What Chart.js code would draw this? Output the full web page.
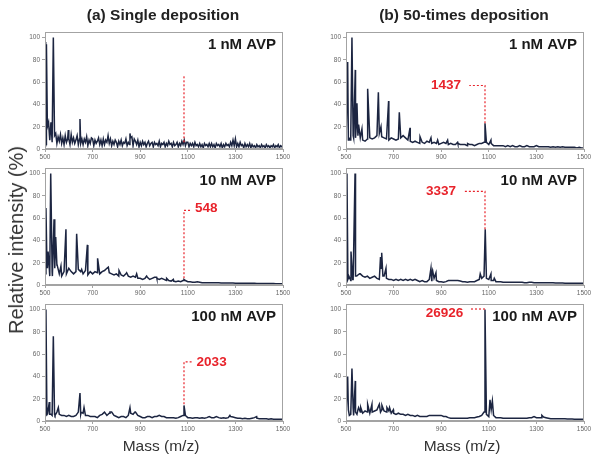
<!DOCTYPE html>
<html><head><meta charset="utf-8">
<script src="https://cdn.jsdelivr.net/npm/chart.js@4.4.1/dist/chart.umd.min.js"></script>
<style>
html,body{margin:0;padding:0;background:#fff;}
#wrap{position:relative;width:602px;height:463px;overflow:hidden;font-family:"Liberation Sans",Arial,sans-serif;}
#wrap canvas{position:absolute;left:0;top:0;}
.t{position:absolute;white-space:nowrap;line-height:1;transform:translate(-50%,-50%);color:#222;}
.title{font-weight:bold;font-size:15.5px;}
.axt{font-size:15.5px;color:#333;}
.yt{font-size:20px;color:#333;transform:translate(-50%,-50%) rotate(-90deg);}
</style></head><body>
<div id="wrap">
<canvas id="c0" width="602" height="463"></canvas>
<canvas id="c1" width="602" height="463"></canvas>
<canvas id="c2" width="602" height="463"></canvas>
<canvas id="c3" width="602" height="463"></canvas>
<canvas id="c4" width="602" height="463"></canvas>
<canvas id="c5" width="602" height="463"></canvas>
<div class="t title" style="left:163px;top:15px;">(a) Single deposition</div>
<div class="t title" style="left:464px;top:15px;">(b) 50-times deposition</div>
<div class="t yt" style="left:16px;top:240px;">Relative intensity (%)</div>
<div class="t axt" style="left:161px;top:446px;">Mass (m/z)</div>
<div class="t axt" style="left:462px;top:446px;">Mass (m/z)</div>
</div>
<script>
// ---- data ----
const xTicks = [500, 700, 900, 1100, 1300, 1500];
const yTicks = [0, 20, 40, 60, 80, 100];
const baseStart = 500; // baseline arrays start at m/z 500 and run to 1500

// (a) single deposition, 1 nM  (baseline sampled every 5 m/z)
const stepA1 = 5;
const baseA1 = [3,4,20,18,8,24,6,3,12,9, 5,11,7,13,5,10,4,12,6,9, 9,4,13,6,10,5,8,12,4,9, 5,10,4,9,6,11,3,8,5,10,
  9,3,8,5,7,10,4,8,3,9, 4,8,6,11,5,9,3,7,4,8, 6,2,7,4,8,3,6,5,9,3, 6,4,10,12,3,9,7,4,8,2,
  6,3,7,4,6,2,5,7,3,5, 6,2,6,4,5,3,7,2,5,4, 6,2,5,3,7,4,5,2,6,3, 4,6,2,5,3,7,4,8,3,6,
  6,2,5,3,5,2,6,3,4,2, 5,2,4,1,5,3,4,2,5,2, 5,2,4,1,5,3,4,2,5,1, 4,2,5,3,4,2,6,3,8,3,
  7,2,5,2,6,3,4,1,5,2, 4,2,5,1,4,2,3,1,4,2, 3,1,4,2,3,1,4,2,3,1, 3,2,4,1,3,2,4,1,3,2, 3];
const peaksA1 = [[502,96],[504,30],[506,94],[515,24],[535,100],[545,14],[598,17],[612,13],[647,27],[655,9],[765,12],[857,14],[865,11],[1085,8],[1300,9]];

// (b) 50-times deposition, 1 nM  (baseline every 10 m/z)
const stepB1 = 10;
const baseB1 = [5,8,10,12,10,12,9,8,7,9, 10,9,10,12,14,11,10,9,8,10, 9,8,9,10,12,10,8,7,6,7, 6,5,6,5,7,6,5,6,5,4, 5,6,5,4,5,4,4,5,4,4,
  4,3,4,4,3,4,5,5,6,6, 4,5,3,3,3,3,3,2,3,2, 3,2,2,3,2,2,3,2,2,2, 3,2,2,2,2,2,1.5,2,1.5,2, 1.5,2,1.5,1.5,1.5,1.5,1.5,1,1.5,1, 1];
const peaksB1 = [[507,78],[512,10],[518,8],[525,100],[532,10],[539,71],[543,20],[546,41],[550,12],[553,22],[560,10],[567,18],[591,54],[636,51],[647,20],[679,43],[724,33],[769,19],[811,11],[857,10],[885,8],[927,8],[969,6],[1011,5],[1067,5],[1084,23],[1109,8]];

// (a) single deposition, 10 nM
const stepA2 = 10;
const baseA2 = [10,15,8,12,15,18,10,8,12,10, 15,12,10,12,14,12,10,13,9,12, 10,12,11,10,12,13,15,11,10,9, 10,8,9,8,10,8,7,8,7,6, 6,5,6,7,5,6,7,6,5,6,
  5,4,4,3.5,3.5,3,3.5,3,4,4, 3,3,2.5,2.5,3,2.5,2,2,2,2, 2,2,2,2,1.8,1.8,1.8,1.8,1.8,1.8, 1.6,1.6,1.6,1.6,1.5,1.5,1.5,1.5,1.5,1.4, 1.4,1.4,1.4,1.3,1.3,1.3,1.3,1.2,1.2,1.2, 1.2];
const peaksA2 = [[504,69],[508,20],[513,30],[518,15],[524,100],[531,8],[538,59],[542,15],[545,43],[551,18],[567,17],[588,50],[612,12],[633,46],[654,14],[678,36],[721,24],[766,16],[811,13],[843,11],[885,10],[927,8],[969,7],[1011,6],[1039,5],[1084,5]];

// (b) 50-times deposition, 10 nM
const stepB2 = 10;
const baseB2 = [3,6,4,5,8,9,10,8,7,8, 6,7,8,6,5,7,8,6,5,5, 4,5,4,5,4,5,4,5,4,5, 4,3,4,3,3,5,4,6,4,3, 3,2.5,3,4,4,4,4,4,3.5,3,
  3,2.5,3,3,3,4,5,6,8,6, 5,4,4,3,3,3,2.5,2.5,2.5,2.5, 2.5,2.5,2.5,2.5,2.5,2,2,2.5,2.5,2, 2,2,2,2,2,2,2,2,1.8,1.8, 1.8,1.8,1.6,1.6,1.6,1.5,1.5,1.5,1.5,1.5, 1.5];
const peaksB2 = [[504,100],[508,5],[512,8],[516,6],[521,30],[528,5],[538,100],[545,8],[557,10],[645,25],[648,15],[650,29],[655,8],[668,15],[857,15],[861,10],[864,13],[878,11],[1064,10],[1085,50],[1109,10],[1123,6]];

// (a) single deposition, 100 nM
const stepA3 = 10;
const baseA3 = [5,8,6,5,6,8,6,5,5,4, 5,4,4,5,8,6,7,5,5,4, 4,4,3,5,6,8,5,7,8,5, 4,3,4,4,3,5,7,6,8,5, 4,3,3,4,4,3,4,4,5,4,
  4,3,3,3,3,2.5,3,4,5,5, 3,3,2.5,3,3,2.5,3,2.5,3,4, 3,3,4,3,2.5,3,2.5,3,4,3.5, 3,2.5,2.5,2,2.5,2,2,2.5,3,2.5, 2,2,2,2,1.5,2,1.5,1.5,1.5,1.5, 1.5];
const peaksA3 = [[504,100],[508,5],[511,6],[518,17],[525,6],[535,76],[542,5],[556,12],[647,25],[652,8],[664,12],[752,8],[773,8],[857,12],[878,8],[1084,14],[1277,5],[1389,4]];

// (b) 50-times deposition, 100 nM
const stepB3 = 10;
const baseB3 = [6,10,6,12,8,10,8,7,9,8, 7,8,9,10,12,10,9,8,9,7, 7,6,7,6,6,5,6,5,5,4, 5,4,4,4,4,5,5,5,5,5, 5,4,4,3,2.5,2.5,2.5,2.5,2.5,2.5,
  2.5,2.5,3,3,3,3.5,4,5,8,6, 4,8,5,3,3,3,2.5,2.5,2.5,2.5, 2.5,2.5,2.5,2.5,2.5,2.5,2.5,3,3,3, 3,3,3,3.5,3,2.5,2,2,2,2, 2,2,2,1.8,1.8,1.8,1.6,1.6,1.6,1.5, 1.5];
const peaksB3 = [[507,40],[514,5],[525,47],[532,5],[539,36],[546,6],[553,12],[562,12],[591,15],[609,15],[640,15],[645,8],[651,14],[672,12],[683,12],[699,10],[1084,100],[1105,19],[1110,10],[1115,18],[1290,4],[1323,5]];

// AVP peak annotations (data space)
const leaderA1 = [[1084,6],[1084,66]];
const leaderA2 = [[1084,6],[1084,67],[1116,67]];
const leaderA3 = [[1084,15],[1084,53],[1116,53]];
const leaderB1 = [[1084,23],[1084,57],[1018,57]];
const leaderB2 = [[1084,50],[1084,84],[994,84]];
const leaderB3 = [[1084,100.5],[1025,100.5]];
const concLabels = ['1 nM AVP','1 nM AVP','10 nM AVP','10 nM AVP','100 nM AVP','100 nM AVP'];
const peakLabels = [null, {text:'1437', m:983, v:57.5, align:'right'},
  {text:'548', m:1130, v:69, align:'left'}, {text:'3337', m:962, v:84, align:'right'},
  {text:'2033', m:1137, v:53, align:'left'}, {text:'26926', m:993, v:96.5, align:'right'}];

// ---- layout (pixel geometry of each plot box) ----
const FONT = '"Liberation Sans", Arial, sans-serif';
const panels = [
  {id:'c0', base:baseA1, step:stepA1, peaks:peaksA1, lead:leaderA1, left:45,  right:283, bottom:149},
  {id:'c1', base:baseB1, step:stepB1, peaks:peaksB1, lead:leaderB1, left:346, right:584, bottom:149},
  {id:'c2', base:baseA2, step:stepA2, peaks:peaksA2, lead:leaderA2, left:45,  right:283, bottom:285},
  {id:'c3', base:baseB2, step:stepB2, peaks:peaksB2, lead:leaderB2, left:346, right:584, bottom:285},
  {id:'c4', base:baseA3, step:stepA3, peaks:peaksA3, lead:leaderA3, left:45,  right:283, bottom:421},
  {id:'c5', base:baseB3, step:stepB3, peaks:peaksB3, lead:leaderB3, left:346, right:584, bottom:421}
];

function buildPoints(base, step, peaks){
  const pm = new Set(peaks.map(p => p[0]));
  const pts = [];
  base.forEach((v, i) => { const m = baseStart + i * step; if (!pm.has(m)) pts.push({x:m, y:v}); });
  peaks.forEach(p => pts.push({x:p[0], y:p[1]}));
  pts.sort((a, b) => a.x - b.x);
  return pts;
}

const framePlugin = {
  id: 'frame',
  afterDraw(chart) {
    const {ctx, chartArea: a} = chart;
    const o = chart.options.plugins.frame;
    ctx.save();
    ctx.strokeStyle = '#a3a3a3';
    ctx.lineWidth = 1;
    ctx.strokeRect(Math.round(a.left) + 0.5, Math.round(a.top) + 0.5, Math.round(a.width) - 1, Math.round(a.height) - 1);
    ctx.fillStyle = '#1a1a1a';
    ctx.font = 'bold 15px ' + FONT;
    ctx.textAlign = 'right';
    ctx.textBaseline = 'middle';
    ctx.fillText(o.conc, a.right - 7, a.top + 13);
    if (o.label) {
      const L = o.label;
      ctx.fillStyle = '#e8232b';
      ctx.font = 'bold 13.5px ' + FONT;
      ctx.textAlign = L.align;
      ctx.fillText(L.text, chart.scales.x.getPixelForValue(L.m), chart.scales.y.getPixelForValue(L.v));
    }
    ctx.restore();
  }
};

const W = 602, H = 463, YW = 22, XH = 14;
panels.forEach((p, idx) => {
  const top = p.bottom - 117;
  new Chart(document.getElementById(p.id), {
    type: 'line',
    data: { datasets: [
      { data: buildPoints(p.base, p.step, p.peaks), borderColor: '#1c2541', borderWidth: 1.5, pointRadius: 0, tension: 0, fill: false, order: 1 },
      { data: p.lead.map(q => ({x:q[0], y:q[1]})), borderColor: '#e8232b', borderWidth: 1.2, borderDash: [2,2], pointRadius: 0, tension: 0, fill: false, order: 0 }
    ]},
    options: {
      responsive: false, animation: false, events: [],
      layout: { padding: { left: p.left - YW, right: W - p.right, top: top, bottom: H - p.bottom - XH } },
      plugins: { legend: {display: false}, tooltip: {enabled: false}, frame: {conc: concLabels[idx], label: peakLabels[idx]} },
      scales: {
        x: {
          type: 'linear', min: 500, max: 1500,
          afterBuildTicks: s => { s.ticks = xTicks.map(v => ({value: v})); },
          afterFit: s => { s.height = XH; s.paddingLeft = 0; s.paddingRight = 0; },
          ticks: { font: {size: 6.5, family: FONT}, color: '#666', padding: 1, maxRotation: 0, autoSkip: false, callback: v => String(v) },
          grid: { display: true, drawOnChartArea: false, tickLength: 3, color: '#a3a3a3' },
          border: { color: '#a3a3a3' }
        },
        y: {
          min: 0, max: 105,
          afterBuildTicks: s => { s.ticks = yTicks.map(v => ({value: v})); },
          afterFit: s => { s.width = YW; s.paddingTop = 0; s.paddingBottom = 0; },
          ticks: { font: {size: 6.5, family: FONT}, color: '#666', padding: 2, autoSkip: false, callback: v => String(v) },
          grid: { display: true, drawOnChartArea: false, tickLength: 3, color: '#a3a3a3' },
          border: { color: '#a3a3a3' }
        }
      }
    },
    plugins: [framePlugin]
  });
});
</script>
</body></html>
